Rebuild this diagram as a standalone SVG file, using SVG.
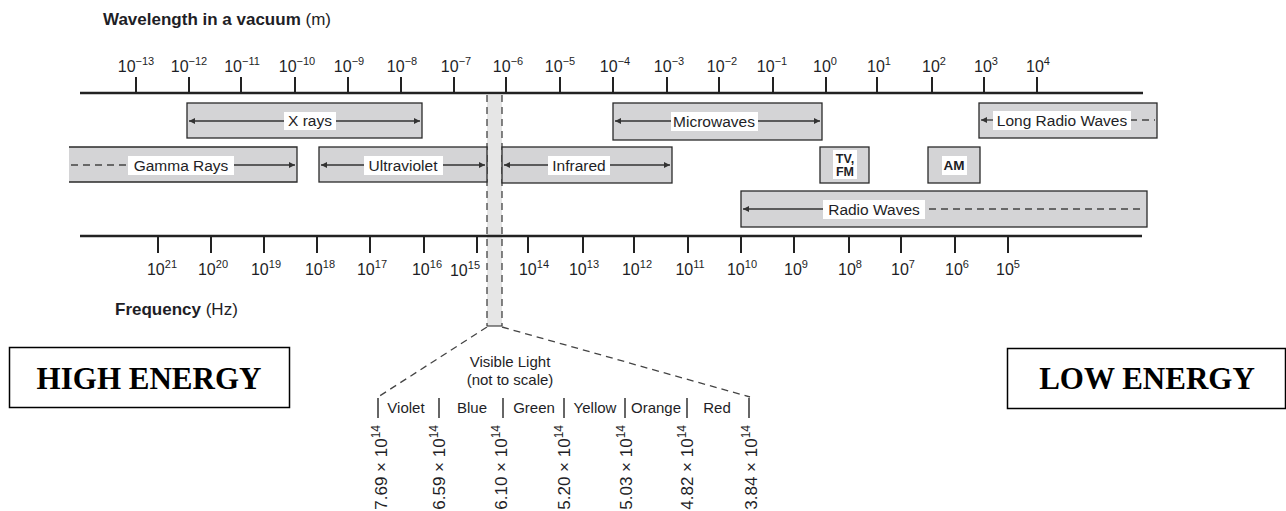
<svg xmlns="http://www.w3.org/2000/svg" width="1286" height="511" viewBox="0 0 1286 511">
<defs>
<style>
text{font-family:"Liberation Sans",Arial,sans-serif;fill:#1e1e26}
.ttl{font-size:17px;font-weight:bold}
.ax{font-size:16px}
.band{fill:#d4d4d6;stroke:#2a2a2a;stroke-width:1.3}
.lbl{font-size:15.5px}
.bg{fill:#fff}
.arr{stroke:#333;stroke-width:1.3;fill:none}
.dash{stroke:#444;stroke-width:1.3;fill:none;stroke-dasharray:7 5}
.axis{stroke:#222;stroke-width:2.5}
.tick{stroke:#222;stroke-width:2}
.col{font-size:15px}
.rot{font-size:17px}
.sep{stroke:#333;stroke-width:1.5}
.en{font-family:"Liberation Serif","Times New Roman",serif;font-size:31px;font-weight:bold;fill:#000}
</style>
<marker id="ah" viewBox="0 0 10 10" refX="10" refY="5" markerWidth="9" markerHeight="6" orient="auto-start-reverse" markerUnits="userSpaceOnUse">
<path d="M0,0 L10,5 L0,10 z" fill="#333"/>
</marker>
</defs>
<rect width="1286" height="511" fill="#fff"/>

<!-- Wavelength axis -->
<g id="wavelength-axis">
<text x="103" y="25" class="ttl">Wavelength in a vacuum <tspan font-weight="normal">(m)</tspan></text>
<line x1="80" y1="93" x2="1143" y2="93" class="axis"/>
<g class="tick">
<line x1="136" y1="77" x2="136" y2="93"/><line x1="189" y1="77" x2="189" y2="93"/>
<line x1="241" y1="77" x2="241" y2="93"/><line x1="295" y1="77" x2="295" y2="93"/>
<line x1="348" y1="77" x2="348" y2="93"/><line x1="401" y1="77" x2="401" y2="93"/>
<line x1="454" y1="77" x2="454" y2="93"/><line x1="506" y1="77" x2="506" y2="93"/>
<line x1="560" y1="77" x2="560" y2="93"/><line x1="613" y1="77" x2="613" y2="93"/>
<line x1="667" y1="77" x2="667" y2="93"/><line x1="719" y1="77" x2="719" y2="93"/>
<line x1="773" y1="77" x2="773" y2="93"/><line x1="826" y1="77" x2="826" y2="93"/>
<line x1="877" y1="77" x2="877" y2="93"/><line x1="932" y1="77" x2="932" y2="93"/>
<line x1="984" y1="77" x2="984" y2="93"/><line x1="1037" y1="77" x2="1037" y2="93"/>
</g>
<g class="ax" text-anchor="middle">
<text x="136" y="72" class="ax">10<tspan dy="-7" font-size="11">−13</tspan></text>
<text x="189" y="72" class="ax">10<tspan dy="-7" font-size="11">−12</tspan></text>
<text x="242" y="72" class="ax">10<tspan dy="-7" font-size="11">−11</tspan></text>
<text x="297" y="72" class="ax">10<tspan dy="-7" font-size="11">−10</tspan></text>
<text x="349" y="72" class="ax">10<tspan dy="-7" font-size="11">−9</tspan></text>
<text x="402" y="72" class="ax">10<tspan dy="-7" font-size="11">−8</tspan></text>
<text x="456" y="72" class="ax">10<tspan dy="-7" font-size="11">−7</tspan></text>
<text x="508" y="72" class="ax">10<tspan dy="-7" font-size="11">−6</tspan></text>
<text x="560" y="72" class="ax">10<tspan dy="-7" font-size="11">−5</tspan></text>
<text x="615" y="72" class="ax">10<tspan dy="-7" font-size="11">−4</tspan></text>
<text x="669" y="72" class="ax">10<tspan dy="-7" font-size="11">−3</tspan></text>
<text x="722" y="72" class="ax">10<tspan dy="-7" font-size="11">−2</tspan></text>
<text x="772" y="72" class="ax">10<tspan dy="-7" font-size="11">−1</tspan></text>
<text x="825" y="72" class="ax">10<tspan dy="-7" font-size="11">0</tspan></text>
<text x="879" y="72" class="ax">10<tspan dy="-7" font-size="11">1</tspan></text>
<text x="934" y="72" class="ax">10<tspan dy="-7" font-size="11">2</tspan></text>
<text x="986" y="72" class="ax">10<tspan dy="-7" font-size="11">3</tspan></text>
<text x="1038" y="72" class="ax">10<tspan dy="-7" font-size="11">4</tspan></text>
</g>
</g>

<!-- Visible strip -->
<g id="visible-strip">
<rect x="487" y="95" width="15" height="231" fill="#e6e6e6"/>
<line x1="487" y1="95" x2="487" y2="326" class="dash" stroke-dasharray="6 4"/>
<line x1="502" y1="95" x2="502" y2="326" class="dash" stroke-dasharray="6 4"/>
<line x1="487" y1="326" x2="502" y2="326" stroke="#444" stroke-width="1.2"/>
</g>

<!-- Bands -->
<g id="xrays">
<rect x="187" y="103" width="235" height="35" class="band"/>
<line x1="189" y1="121" x2="420" y2="121" class="arr" marker-start="url(#ah)" marker-end="url(#ah)"/>
<rect x="284" y="112" width="52" height="18" class="bg"/>
<text x="310" y="126" class="lbl" text-anchor="middle">X rays</text>
</g>
<g id="gamma">
<path d="M69,147 H297 V182 H69" class="band"/>
<line x1="71" y1="165" x2="128" y2="165" class="dash"/>
<line x1="234" y1="165" x2="295" y2="165" class="arr" marker-end="url(#ah)"/>
<rect x="128" y="156" width="106" height="19" class="bg"/>
<text x="181" y="171" class="lbl" text-anchor="middle">Gamma Rays</text>
</g>
<g id="ultraviolet">
<rect x="319" y="147" width="168" height="35" class="band"/>
<line x1="321" y1="165" x2="485" y2="165" class="arr" marker-start="url(#ah)" marker-end="url(#ah)"/>
<rect x="364" y="156" width="79" height="19" class="bg"/>
<text x="403" y="171" class="lbl" text-anchor="middle">Ultraviolet</text>
</g>
<g id="infrared">
<rect x="502" y="147" width="170" height="36" class="band"/>
<line x1="504" y1="165" x2="670" y2="165" class="arr" marker-start="url(#ah)" marker-end="url(#ah)"/>
<rect x="548" y="156" width="62" height="19" class="bg"/>
<text x="579" y="171" class="lbl" text-anchor="middle">Infrared</text>
</g>
<g id="microwaves">
<rect x="613" y="103" width="209" height="37" class="band"/>
<line x1="615" y1="121" x2="820" y2="121" class="arr" marker-start="url(#ah)" marker-end="url(#ah)"/>
<rect x="671" y="112" width="87" height="19" class="bg"/>
<text x="714" y="127" class="lbl" text-anchor="middle">Microwaves</text>
</g>
<g id="tvfm">
<rect x="820" y="147" width="49" height="36" class="band"/>
<rect x="833" y="150" width="24" height="29" class="bg"/>
<text x="845" y="163" font-size="12.5" font-weight="bold" text-anchor="middle">TV,</text>
<text x="845" y="176" font-size="12.5" font-weight="bold" text-anchor="middle">FM</text>
</g>
<g id="am">
<rect x="928" y="147" width="52" height="36" class="band"/>
<rect x="942" y="156" width="25" height="19" class="bg"/>
<text x="954" y="170" font-size="13.5" font-weight="bold" text-anchor="middle">AM</text>
</g>
<g id="long-radio">
<rect x="979" y="103" width="178" height="35" class="band"/>
<line x1="981" y1="120" x2="995" y2="120" class="arr" marker-start="url(#ah)"/>
<line x1="1130" y1="120" x2="1155" y2="120" class="dash" stroke-dasharray="7 5"/>
<rect x="993" y="111" width="138" height="19" class="bg"/>
<text x="1062" y="126" class="lbl" text-anchor="middle">Long Radio Waves</text>
</g>
<g id="radio">
<rect x="741" y="191" width="406" height="36" class="band"/>
<line x1="743" y1="209" x2="825" y2="209" class="arr" marker-start="url(#ah)"/>
<line x1="929" y1="209" x2="1141" y2="209" class="dash"/>
<rect x="823" y="200" width="102" height="19" class="bg"/>
<text x="874" y="215" class="lbl" text-anchor="middle">Radio Waves</text>
</g>

<!-- Frequency axis -->
<g id="frequency-axis">
<line x1="80" y1="236" x2="1142" y2="236" class="axis"/>
<g class="tick">
<line x1="158" y1="236" x2="158" y2="253"/><line x1="211" y1="236" x2="211" y2="253"/>
<line x1="264" y1="236" x2="264" y2="253"/><line x1="317" y1="236" x2="317" y2="253"/>
<line x1="370" y1="236" x2="370" y2="253"/><line x1="424" y1="236" x2="424" y2="253"/>
<line x1="477" y1="236" x2="477" y2="253"/><line x1="528" y1="236" x2="528" y2="253"/>
<line x1="583" y1="236" x2="583" y2="253"/><line x1="634" y1="236" x2="634" y2="253"/>
<line x1="688" y1="236" x2="688" y2="253"/><line x1="741" y1="236" x2="741" y2="253"/>
<line x1="794" y1="236" x2="794" y2="253"/><line x1="849" y1="236" x2="849" y2="253"/>
<line x1="901" y1="236" x2="901" y2="253"/><line x1="955" y1="236" x2="955" y2="253"/>
<line x1="1008" y1="236" x2="1008" y2="253"/>
</g>
<g text-anchor="middle">
<text x="162" y="275" class="ax">10<tspan dy="-7" font-size="11">21</tspan></text>
<text x="213" y="275" class="ax">10<tspan dy="-7" font-size="11">20</tspan></text>
<text x="266" y="275" class="ax">10<tspan dy="-7" font-size="11">19</tspan></text>
<text x="320" y="275" class="ax">10<tspan dy="-7" font-size="11">18</tspan></text>
<text x="372" y="275" class="ax">10<tspan dy="-7" font-size="11">17</tspan></text>
<text x="427" y="275" class="ax">10<tspan dy="-7" font-size="11">16</tspan></text>
<text x="465" y="276" class="ax">10<tspan dy="-7" font-size="11">15</tspan></text>
<text x="534" y="275" class="ax">10<tspan dy="-7" font-size="11">14</tspan></text>
<text x="584" y="275" class="ax">10<tspan dy="-7" font-size="11">13</tspan></text>
<text x="637" y="275" class="ax">10<tspan dy="-7" font-size="11">12</tspan></text>
<text x="690" y="275" class="ax">10<tspan dy="-7" font-size="11">11</tspan></text>
<text x="742" y="275" class="ax">10<tspan dy="-7" font-size="11">10</tspan></text>
<text x="796" y="275" class="ax">10<tspan dy="-7" font-size="11">9</tspan></text>
<text x="850" y="275" class="ax">10<tspan dy="-7" font-size="11">8</tspan></text>
<text x="903" y="275" class="ax">10<tspan dy="-7" font-size="11">7</tspan></text>
<text x="957" y="275" class="ax">10<tspan dy="-7" font-size="11">6</tspan></text>
<text x="1008" y="275" class="ax">10<tspan dy="-7" font-size="11">5</tspan></text>
</g>
<text x="115" y="315" class="ttl">Frequency <tspan font-weight="normal">(Hz)</tspan></text>
</g>

<!-- Visible light detail -->
<g id="connectors">
<line x1="487" y1="327" x2="378" y2="397" class="dash"/>
<line x1="502" y1="327" x2="750" y2="397" class="dash"/>
</g>
<g id="visible-light">
<text x="510" y="367" class="col" text-anchor="middle">Visible Light</text>
<text x="510" y="385" class="col" text-anchor="middle">(not to scale)</text>
<g class="sep">
<line x1="378" y1="398" x2="378" y2="418"/><line x1="439" y1="398" x2="439" y2="418"/>
<line x1="503" y1="398" x2="503" y2="418"/><line x1="564" y1="398" x2="564" y2="418"/>
<line x1="625" y1="398" x2="625" y2="418"/><line x1="687" y1="398" x2="687" y2="418"/>
<line x1="749" y1="398" x2="749" y2="418"/>
</g>
<g class="col" text-anchor="middle">
<text x="406" y="413" class="col">Violet</text>
<text x="472" y="413" class="col">Blue</text>
<text x="534" y="413" class="col">Green</text>
<text x="595" y="413" class="col">Yellow</text>
<text x="656" y="413" class="col">Orange</text>
<text x="717" y="413" class="col">Red</text>
</g>
<g text-anchor="end">
<text transform="translate(387,425) rotate(-90)" class="rot">7.69 × 10<tspan dy="-7" font-size="12">14</tspan></text>
<text transform="translate(445,425) rotate(-90)" class="rot">6.59 × 10<tspan dy="-7" font-size="12">14</tspan></text>
<text transform="translate(507,425) rotate(-90)" class="rot">6.10 × 10<tspan dy="-7" font-size="12">14</tspan></text>
<text transform="translate(570,425) rotate(-90)" class="rot">5.20 × 10<tspan dy="-7" font-size="12">14</tspan></text>
<text transform="translate(632,425) rotate(-90)" class="rot">5.03 × 10<tspan dy="-7" font-size="12">14</tspan></text>
<text transform="translate(693,425) rotate(-90)" class="rot">4.82 × 10<tspan dy="-7" font-size="12">14</tspan></text>
<text transform="translate(757,425) rotate(-90)" class="rot">3.84 × 10<tspan dy="-7" font-size="12">14</tspan></text>
</g>
</g>

<g id="high-energy">
<rect x="9.5" y="347.5" width="280" height="60" fill="#fff" stroke="#000" stroke-width="1.5"/>
<text x="149" y="389" class="en" text-anchor="middle">HIGH ENERGY</text>
</g>
<g id="low-energy">
<rect x="1007.5" y="348.5" width="278" height="60" fill="#fff" stroke="#000" stroke-width="1.5"/>
<text x="1147" y="389" class="en" text-anchor="middle">LOW ENERGY</text>
</g>
</svg>
